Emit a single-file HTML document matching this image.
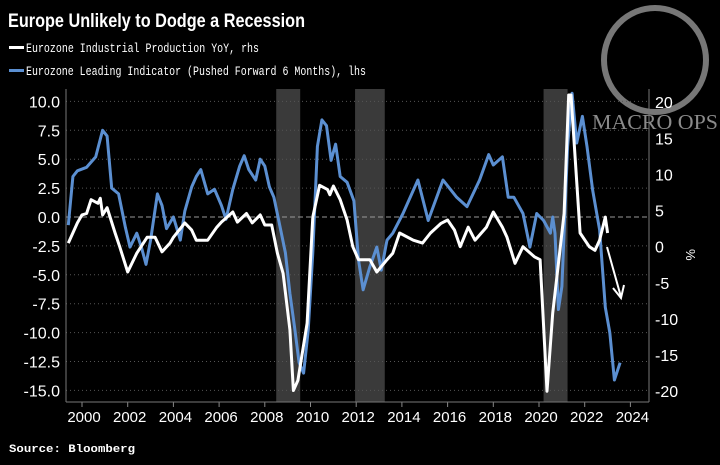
<!DOCTYPE html>
<html><head><meta charset="utf-8"><style>
html,body{margin:0;padding:0;background:#000;width:720px;height:465px;overflow:hidden}
svg{display:block}
</style></head><body>
<svg id="chart" width="720" height="465" viewBox="0 0 720 465" xmlns="http://www.w3.org/2000/svg">
<rect width="720" height="465" fill="#000"/>
<g>
<ellipse cx="655" cy="60" rx="51" ry="52" fill="none" stroke="#777" stroke-width="6"/>
<text x="655" y="129" text-anchor="middle" font-family="Liberation Serif, serif" font-size="21" fill="#8a8a8a" textLength="126" lengthAdjust="spacingAndGlyphs">MACRO OPS</text>
</g>
<text x="8" y="27" font-family="Liberation Sans, sans-serif" font-weight="bold" font-size="19" fill="#fff" textLength="297" lengthAdjust="spacingAndGlyphs">Europe Unlikely to Dodge a Recession</text>
<g>
<g>
<rect x="9" y="46" width="15" height="3" fill="#fff"/>
<text x="26" y="52" font-family="Liberation Mono, monospace" font-size="13" fill="#fff" textLength="233" lengthAdjust="spacingAndGlyphs">Eurozone Industrial Production YoY, rhs</text>
</g>
<g>
<rect x="9" y="69" width="15" height="3" fill="#5b8fd1"/>
<text x="26" y="75" font-family="Liberation Mono, monospace" font-size="13" fill="#fff" textLength="340" lengthAdjust="spacingAndGlyphs">Eurozone Leading Indicator (Pushed Forward 6 Months), lhs</text>
</g>
</g>
<g id="plot"></g>
<text x="9" y="452" font-family="Liberation Mono, monospace" font-weight="bold" font-size="11" fill="#fff" textLength="126" lengthAdjust="spacingAndGlyphs">Source: Bloomberg</text>
</svg>
<script>
const years=[2000,2002,2004,2006,2008,2010,2012,2014,2016,2018,2020,2022,2024];
const lhsTicks=[10,7.5,5,2.5,0,-2.5,-5,-7.5,-10,-12.5,-15];
const rhsTicks=[20,15,10,5,0,-5,-10,-15,-20];
const recessions=[[2008.5,2009.55],[2011.95,2013.25],[2020.2,2021.25]];
const leadT=[1999.4,1999.6,1999.8,2000.2,2000.6,2000.9,2001.1,2001.3,2001.6,2001.9,2002.1,2002.4,2002.6,2002.8,2003.0,2003.3,2003.5,2003.7,2004.0,2004.3,2004.5,2004.8,2005.0,2005.2,2005.5,2005.8,2006.1,2006.3,2006.6,2006.9,2007.1,2007.3,2007.6,2007.8,2008.0,2008.2,2008.4,2008.6,2008.9,2009.1,2009.3,2009.5,2009.7,2009.9,2010.1,2010.3,2010.5,2010.7,2010.9,2011.1,2011.3,2011.6,2011.9,2012.1,2012.3,2012.6,2012.9,2013.1,2013.35,2013.6,2014.05,2014.7,2015.15,2015.8,2016.4,2016.85,2017.4,2017.8,2018.0,2018.4,2018.65,2018.9,2019.3,2019.6,2019.9,2020.2,2020.5,2020.6,2020.7,2020.85,2021.0,2021.25,2021.45,2021.65,2021.9,2022.1,2022.35,2022.65,2022.9,2023.1,2023.3,2023.55];
const leadV=[-0.7,3.5,4.0,4.3,5.2,7.5,7.0,2.5,2.0,-0.9,-2.6,-1.4,-2.6,-4.1,-2.0,2.0,1.0,-1.0,0.0,-2.0,0.5,2.6,3.5,4.1,2.0,2.4,1.0,-0.2,2.4,4.4,5.3,4.1,3.2,5.0,4.4,2.6,1.7,-0.2,-3.1,-6.6,-9.5,-12.6,-13.5,-9.8,-3.1,6.1,8.4,7.9,4.9,6.3,3.5,3.0,1.4,-3.7,-6.3,-4.3,-2.6,-4.6,-2.0,-1.4,0.3,3.2,-0.3,3.2,1.7,0.9,3.2,5.4,4.5,5.2,1.7,1.7,0.3,-2.6,0.3,-0.3,-1.4,0.0,-1.4,-8.0,-6.0,6.1,10.7,6.4,8.7,6.1,2.3,-1.1,-7.8,-10.0,-14.1,-12.6];
const ipT=[1999.4,1999.8,2000.0,2000.2,2000.4,2000.7,2000.8,2000.9,2001.1,2001.45,2001.65,2002.0,2002.4,2002.85,2003.2,2003.5,2003.85,2004.0,2004.5,2004.8,2005.0,2005.5,2005.9,2006.1,2006.6,2006.8,2007.2,2007.45,2007.8,2008.0,2008.3,2008.55,2008.8,2009.1,2009.25,2009.45,2009.85,2010.1,2010.4,2010.75,2010.85,2011.0,2011.3,2011.6,2011.85,2012.1,2012.6,2012.9,2013.35,2013.6,2013.9,2014.5,2014.9,2015.25,2015.7,2016.0,2016.3,2016.55,2016.9,2017.2,2017.7,2018.0,2018.4,2018.6,2018.95,2019.3,2019.8,2020.05,2020.25,2020.35,2020.6,2020.9,2021.1,2021.3,2021.4,2021.8,2022.2,2022.45,2022.65,2022.9,2023.0];
const ipV=[0.5,3.3,4.4,4.6,6.5,6.0,6.7,4.4,5.4,1.9,0,-3.5,-0.9,1.3,1.3,-0.7,0.5,1.3,3.3,2.3,0.9,0.9,2.7,3.4,4.8,3.4,4.6,3.3,4.4,3.0,3.0,-0.9,-3.7,-11.5,-19.9,-18.5,-10.6,4.1,8.5,7.9,7.2,8.4,6.5,3.7,0,-1.8,-1.8,-3.5,-1.8,-0.9,1.9,0.9,0.5,1.9,3.2,3.7,2.3,0,2.7,0.9,2.7,4.8,2.7,1.3,-2.3,0,-1.4,-1.8,-13.9,-20,-9.2,-0.9,4.6,21,21,1.9,0,-0.5,0.9,4.1,1.9];

const NS='http://www.w3.org/2000/svg';
const L=66,R=649,T=89,B=402;
const x=t=>82+(t-2000)*22.85;
const yL=v=>217-v*11.56;
const yR=v=>246.7-v*7.225;
const plot=document.getElementById('plot');
function mk(tag,attrs,parent){const e=document.createElementNS(NS,tag);for(const k in attrs)e.setAttribute(k,attrs[k]);(parent||plot).appendChild(e);return e;}
const clip=mk('clipPath',{id:'pc'});mk('rect',{x:L,y:T,width:R-L,height:B-T},clip);
recessions.forEach(r=>{const e=mk('rect',{x:x(r[0]),y:T,width:x(r[1])-x(r[0]),height:B-T,fill:'#3a3a3a'});

});
lhsTicks.forEach(v=>{
const g=mk('line',{x1:L,x2:R,y1:yL(v),y2:yL(v),stroke:v===0?'#999':'#555','stroke-dasharray':v===0?'5,3':'1,3','stroke-width':1});


const t=mk('text',{x:60,y:yL(v)+6,'text-anchor':'end','font-family':'Liberation Sans, sans-serif','font-size':16,fill:'#fff'});
t.textContent=v.toFixed(1);

});
rhsTicks.forEach(v=>{const t=mk('text',{x:655,y:yR(v)+6,'font-family':'Liberation Sans, sans-serif','font-size':16,fill:'#fff'});
t.textContent=v;

});
const pct=mk('text',{x:690,y:253,'font-family':'Liberation Sans, sans-serif','font-size':13,fill:'#fff',transform:'rotate(90 690 249)'});pct.textContent='%';


years.forEach(yr=>{mk('line',{x1:x(yr),x2:x(yr),y1:B,y2:B+5,stroke:'#888'});
const t=mk('text',{x:x(yr)+2,y:B+20,'text-anchor':'middle','font-family':'Liberation Sans, sans-serif','font-size':15,fill:'#fff'});
t.textContent=yr;

});
mk('line',{x1:L,x2:L,y1:T,y2:B,stroke:'#777'});
mk('line',{x1:R,x2:R,y1:T,y2:B,stroke:'#777'});
mk('line',{x1:L,x2:R,y1:B,y2:B,stroke:'#777'});
function path(ts,vs,yf){return ts.map((t,i)=>(i?'L':'M')+x(t).toFixed(1)+','+yf(vs[i]).toFixed(1)).join('');}
const bl=mk('path',{d:path(leadT,leadV,yL),fill:'none',stroke:'#5b8fd1','stroke-width':3,'stroke-linejoin':'round','clip-path':'url(#pc)'});


const wl=mk('path',{d:path(ipT,ipV,yR),fill:'none',stroke:'#fff','stroke-width':3,'stroke-linejoin':'round','clip-path':'url(#pc)'});


const ar=mk('g',{stroke:'#fff','stroke-width':2,fill:'none'});


mk('line',{x1:607,y1:247,x2:621,y2:297},ar);
mk('polyline',{points:'613,288 621,298 624,285'},ar);
</script>
</body></html>
